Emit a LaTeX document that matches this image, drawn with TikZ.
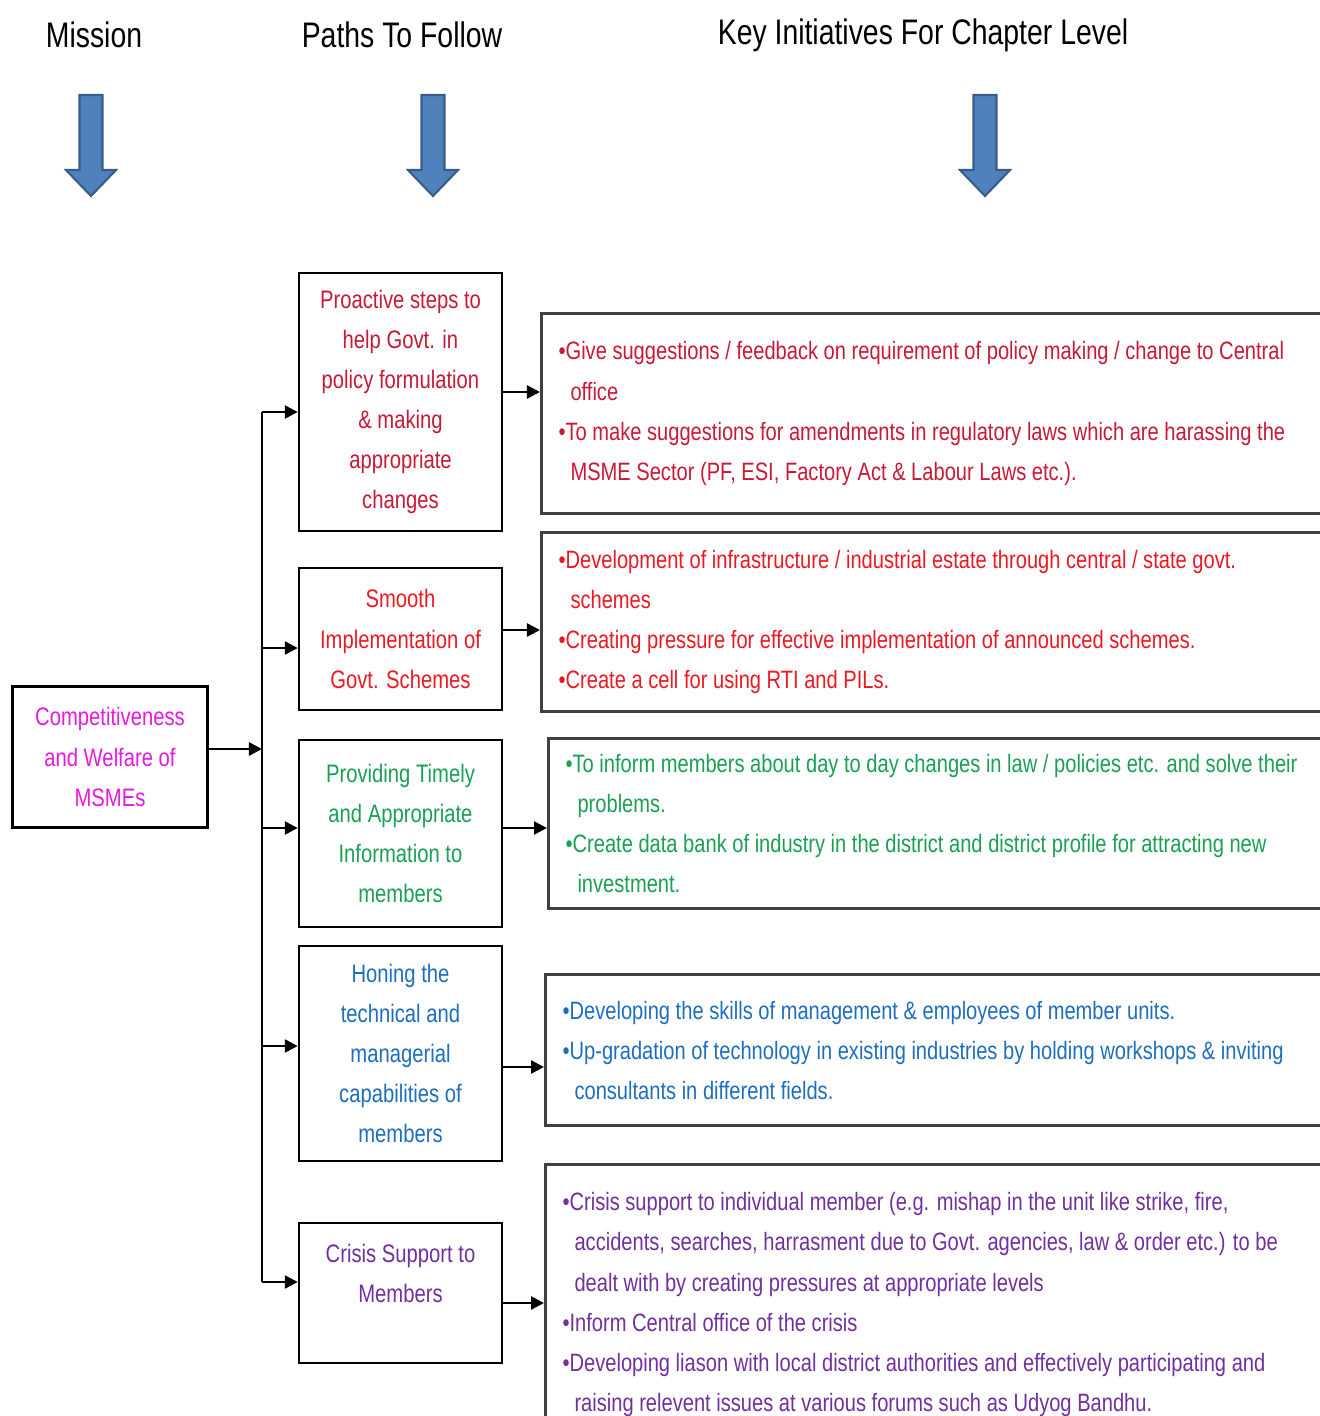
\documentclass[tikz,border=0pt]{standalone}
\usepackage{fontspec}
\setmainfont{Liberation Sans}[FakeStretch=0.8]
\usepackage{xcolor}
\usepackage{tikz}
\usetikzlibrary{arrows.meta}

\definecolor{arrowblue}{RGB}{79,129,189}
\definecolor{arrowedge}{RGB}{56,93,138}
\definecolor{missioncol}{RGB}{230,25,225}
\definecolor{policycol}{RGB}{200,25,55}
\definecolor{schemecol}{RGB}{235,25,35}
\definecolor{infocol}{RGB}{25,160,85}
\definecolor{skillcol}{RGB}{30,110,190}
\definecolor{crisiscol}{RGB}{112,48,160}

\newcommand\boxfont{\fontsize{7.2}{11.4}\selectfont}
\newcommand\keyfont{\fontsize{7.15}{11.4}\selectfont}
\newcommand\headfont{\fontsize{10.1}{12}\selectfont}
\newcommand\cont{\hspace*{3.4pt}}

\tikzset{
  heading/.style={font=\headfont},
  pathbox/.style={draw, line width=0.7pt, minimum width=2.03cm, align=center, font=\boxfont, inner sep=0pt},
  keybox/.style={draw=black!75, line width=0.9pt, anchor=north west, align=flush left, text width=7.8cm, inner xsep=0.17cm, inner ysep=0pt, font=\keyfont},
  conn/.style={line width=0.7pt, -{Triangle[length=0.13cm,width=0.13cm]}},
  bigarrow/.style={fill=arrowblue, draw=arrowedge, line width=0.6pt}
}

\begin{document}
\begin{tikzpicture}
        \useasboundingbox (0,0) rectangle (13.2,-14.16);
        \clip (0,0) rectangle (13.2,-14.16);
        % headings
        \node[heading] (hmission) at (0.94,-0.35) {Mission};
        \node[heading] (hpaths)   at (4.02,-0.35) {Paths To Follow};
        \node[heading] (hkey)     at (9.23,-0.35) {Key Initiatives For Chapter Level};
        \draw [bigarrow] (0.795,-0.95) -- (1.025,-0.95) -- (1.025,-1.70) -- (1.16,-1.70) -- (0.91,-1.96) -- (0.66,-1.70) -- (0.795,-1.70) -- cycle;
        \draw [bigarrow] (4.215,-0.95) -- (4.445,-0.95) -- (4.445,-1.70) -- (4.58,-1.70) -- (4.33,-1.96) -- (4.08,-1.70) -- (4.215,-1.70) -- cycle;
        \draw [bigarrow] (9.735,-0.95) -- (9.965,-0.95) -- (9.965,-1.70) -- (10.10,-1.70) -- (9.85,-1.96) -- (9.60,-1.70) -- (9.735,-1.70) -- cycle;
        % mission
        \node[pathbox, minimum width=1.95cm, minimum height=1.41cm, text=missioncol] (mission) at (1.10,-7.57)
              {Competitiveness\\and Welfare of\\MSMEs};
        % paths to follow
        \node[pathbox, minimum height=2.58cm, text=policycol] (p1) at (4.005,-4.02)
              {Proactive steps to\\help Govt. in\\policy formulation\\\& making\\appropriate\\changes};
        \node[pathbox, minimum height=1.42cm, text=schemecol] (p2) at (4.005,-6.39)
              {Smooth\\Implementation of\\Govt. Schemes};
        \node[pathbox, minimum height=1.87cm, text=infocol] (p3) at (4.005,-8.335)
              {Providing Timely\\and Appropriate\\Information to\\members};
        \node[pathbox, minimum height=2.15cm, text=skillcol] (p4) at (4.005,-10.535)
              {Honing the\\technical and\\managerial\\capabilities of\\members};
        \node[pathbox, minimum height=1.40cm, text=crisiscol] (p5) at (4.005,-12.93)
              {Crisis Support to\\Members\\\mbox{}};
        % key initiatives
        \node[keybox, minimum height=2.00cm, text=policycol] (k1) at (5.40,-3.12)
              {•Give suggestions / feedback on requirement of policy making / change to Central\\
               \cont office\\
               •To make suggestions for amendments in regulatory laws which are harassing the\\
               \cont MSME Sector (PF, ESI, Factory Act \& Labour Laws etc.).};
        \node[keybox, minimum height=1.79cm, text=schemecol] (k2) at (5.40,-5.31)
              {•Development of infrastructure / industrial estate through central / state govt.\\
               \cont schemes\\
               •Creating pressure for effective implementation of announced schemes.\\
               •Create a cell for using RTI and PILs.};
        \node[keybox, minimum height=1.70cm, text=infocol] (k3) at (5.47,-7.37)
              {•To inform members about day to day changes in law / policies etc. and solve their\\
               \cont problems.\\
               •Create data bank of industry in the district and district profile for attracting new\\
               \cont investment.};
        \node[keybox, minimum height=1.51cm, text=skillcol] (k4) at (5.44,-9.73)
              {•Developing the skills of management \& employees of member units.\\
               •Up-gradation of technology in existing industries by holding workshops \& inviting\\
               \cont consultants in different fields.};
        \node[keybox, minimum height=2.80cm, text=crisiscol] (k5) at (5.44,-11.63)
              {•Crisis support to individual member (e.g. mishap in the unit like strike, fire,\\
               \cont accidents, searches, harrasment due to Govt. agencies, law \& order etc.) to be\\
               \cont dealt with by creating pressures at appropriate levels\\
               •Inform Central office of the crisis\\
               •Developing liason with local district authorities and effectively participating and\\
               \cont raising relevent issues at various forums such as Udyog Bandhu.};
        % trunk and branches
        \coordinate (join) at (2.62,-7.49);
        \coordinate (b1) at (2.62,-4.12);
        \coordinate (b2) at (2.62,-6.48);
        \coordinate (b3) at (2.62,-8.28);
        \coordinate (b4) at (2.62,-10.46);
        \coordinate (b5) at (2.62,-12.82);
        \draw [conn] (join -| mission.east) -- (join);
        \draw [line width=0.7pt] (b1) -- (b5);
        \draw [conn] (b1) -- (b1 -| p1.west);
        \draw [conn] (b2) -- (b2 -| p2.west);
        \draw [conn] (b3) -- (b3 -| p3.west);
        \draw [conn] (b4) -- (b4 -| p4.west);
        \draw [conn] (b5) -- (b5 -| p5.west);
        % paths to initiatives
        \coordinate (a1) at (5.02,-3.92);
        \coordinate (a2) at (5.02,-6.30);
        \coordinate (a3) at (5.02,-8.28);
        \coordinate (a4) at (5.02,-10.67);
        \coordinate (a5) at (5.02,-13.03);
        \draw [conn] (p1.east |- a1) -- (k1.west |- a1);
        \draw [conn] (p2.east |- a2) -- (k2.west |- a2);
        \draw [conn] (p3.east |- a3) -- (k3.west |- a3);
        \draw [conn] (p4.east |- a4) -- (k4.west |- a4);
        \draw [conn] (p5.east |- a5) -- (k5.west |- a5);
\end{tikzpicture}
\end{document}
